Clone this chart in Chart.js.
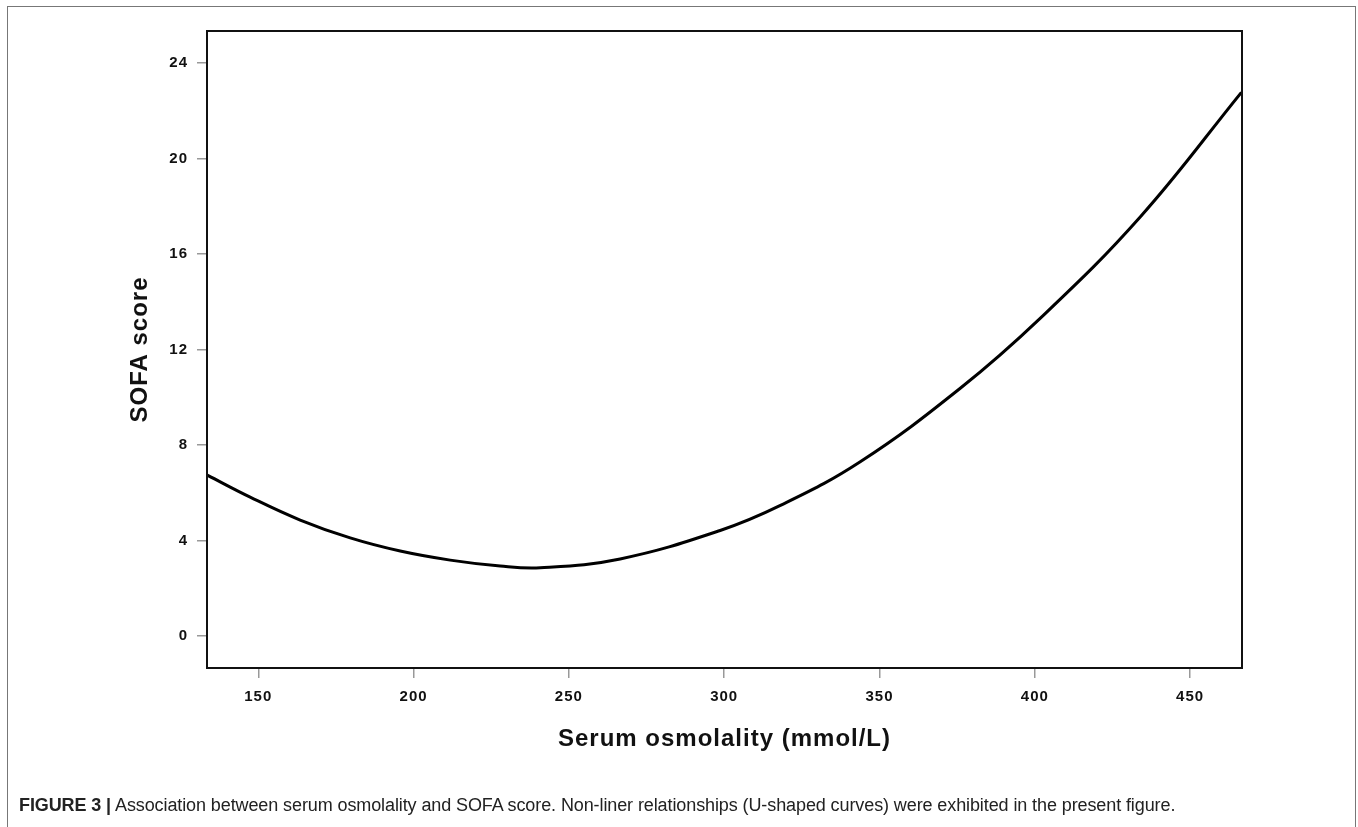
<!DOCTYPE html>
<html>
<head>
<meta charset="utf-8">
<script src="https://cdn.jsdelivr.net/npm/chart.js@4.4.1/dist/chart.umd.min.js"></script>
<style>
  html, body { margin: 0; padding: 0; background: #fff; }
  #wrap { position: relative; width: 1358px; height: 827px; overflow: hidden; }
  #frame { position: absolute; left: 7px; top: 6px; width: 1349px; height: 900px;
           border: 1.5px solid #777; box-sizing: border-box; }
  #box { position: absolute; left: 0; top: 0; width: 1358px; height: 827px; }
  #caption { position: absolute; left: 19px; top: 795px; font-family: "Liberation Sans", Arial, sans-serif;
             font-size: 18px; color: #222; white-space: nowrap; letter-spacing: -0.1px; }
  #caption b { font-weight: bold; }
</style>
</head>
<body>
<div id="wrap">
  <div id="frame"></div>
  <div id="box"><canvas id="grafico"></canvas></div>
  <div id="caption"><b>FIGURE 3 |</b> Association between serum osmolality and SOFA score. Non-liner relationships (U-shaped curves) were exhibited in the present figure.</div>
</div>
<script>
// dados --------------------------------------------
var osmolalidade = [133.6, 147.4, 163.5, 179.6, 195.7, 211.8, 227.9, 240.8, 266.5, 298.7, 318.1, 343.8, 376.0, 401.8, 434.0, 466.5];
var sofa = [6.74, 5.82, 4.86, 4.11, 3.56, 3.18, 2.93, 2.86, 3.23, 4.42, 5.47, 7.30, 10.38, 13.32, 17.57, 22.78];

var ticksX = [150, 200, 250, 300, 350, 400, 450];
var ticksY = [0, 4, 8, 12, 16, 20, 24];

var pontos = osmolalidade.map(function (x, i) { return { x: x, y: sofa[i] }; });

// moldura do gráfico
var moldura = {
  id: "moldura",
  beforeDraw: function (chart) {
    chart.ctx.letterSpacing = "1px";
  },
  afterDraw: function (chart) {
    var a = chart.chartArea, ctx = chart.ctx;
    ctx.save();
    ctx.strokeStyle = "#111";
    ctx.lineWidth = 2;
    ctx.strokeRect(a.left, a.top, a.right - a.left, a.bottom - a.top);
    ctx.restore();
  }
};

var fonteTick = { family: "'Liberation Sans', Arial, sans-serif", size: 15, weight: "bold" };
var fonteTitulo = { family: "'Liberation Sans', Arial, sans-serif", size: 24, weight: "bold" };

new Chart(document.getElementById("grafico"), {
  type: "line",
  data: {
    datasets: [{
      data: pontos,
      borderColor: "#000",
      borderWidth: 3,
      pointRadius: 0,
      tension: 0.4,
      fill: false
    }]
  },
  options: {
    responsive: true,
    maintainAspectRatio: false,
    animation: false,
    layout: { padding: { top: 31, right: 116, left: 0, bottom: 0 } },
    plugins: { legend: { display: false }, tooltip: { enabled: false } },
    scales: {
      x: {
        type: "linear",
        min: 133.5,
        max: 466.7,
        afterBuildTicks: function (s) { s.ticks = ticksX.map(function (v) { return { value: v }; }); },
        afterFit: function (s) { s.height = 159; },
        grid: { drawOnChartArea: false, color: "#999", tickLength: 10, lineWidth: 1.5 },
        border: { display: false },
        ticks: { color: "#111", font: fonteTick, padding: 10, maxRotation: 0 },
        title: { display: true, text: "Serum osmolality (mmol/L)", color: "#111", font: fonteTitulo, padding: { top: 0, bottom: 73 } }
      },
      y: {
        min: -1.34,
        max: 25.35,
        afterBuildTicks: function (s) { s.ticks = ticksY.map(function (v) { return { value: v }; }); },
        afterFit: function (s) { s.width = 207; },
        grid: { drawOnChartArea: false, color: "#999", tickLength: 10, lineWidth: 1.5 },
        border: { display: false },
        ticks: { color: "#111", font: fonteTick, padding: 9 },
        title: { display: true, text: "SOFA score", color: "#111", font: fonteTitulo, padding: { top: 126, bottom: 0 } }
      }
    }
  },
  plugins: [moldura]
});
</script>
</body>
</html>
